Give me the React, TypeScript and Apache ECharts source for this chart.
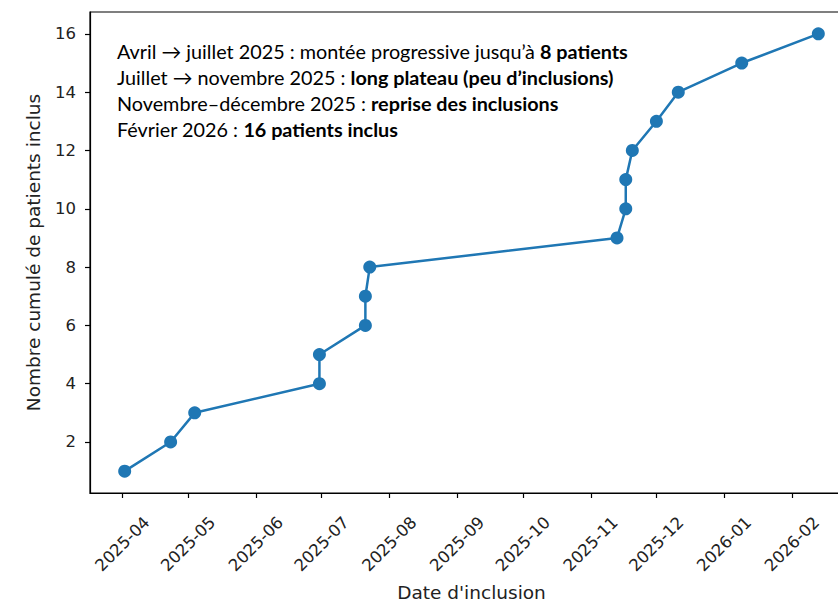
import React, { useEffect, useRef } from "react";
import * as echarts from "echarts";

const inclusionDates = [
  "2025-04-02", "2025-04-23", "2025-05-04", "2025-06-30", "2025-06-30",
  "2025-07-21", "2025-07-21", "2025-07-23", "2025-11-13", "2025-11-17",
  "2025-11-17", "2025-11-20", "2025-12-01", "2025-12-11", "2026-01-09",
  "2026-02-13",
];
const cumulativePatients = [1, 2, 3, 4, 5, 6, 7, 8, 9, 10, 11, 12, 13, 14, 15, 16];
const monthTicks = [
  "2025-04", "2025-05", "2025-06", "2025-07", "2025-08", "2025-09",
  "2025-10", "2025-11", "2025-12", "2026-01", "2026-02",
];
const yTicks = [2, 4, 6, 8, 10, 12, 14, 16];
const notes = [
  { normal: "Avril → juillet 2025 : montée progressive jusqu’à ", bold: "8 patients" },
  { normal: "Juillet → novembre 2025 : ", bold: "long plateau (peu d’inclusions)" },
  { normal: "Novembre–décembre 2025 : ", bold: "reprise des inclusions" },
  { normal: "Février 2026 : ", bold: "16 patients inclus" },
];

const ts = (s: string) => Date.parse(s + "T00:00:00Z");

export default function App() {
  const ref = useRef<HTMLDivElement>(null);
  useEffect(() => {
    if (!ref.current) return;
    const chart = echarts.init(ref.current, null, { renderer: "svg" });
    const xs = inclusionDates.map(ts);
    const xMinData = Math.min(...xs);
    const xMaxData = Math.max(...xs);
    const pad = (xMaxData - xMinData) * 0.05;
    const yPad = (Math.max(...cumulativePatients) - Math.min(...cumulativePatients)) * 0.05;
    const tickVals = monthTicks.map((m) => ts(m + "-01"));
    const fmt = (v: number) => {
      const d = new Date(v);
      return d.getUTCFullYear() + "-" + String(d.getUTCMonth() + 1).padStart(2, "0");
    };
    const font = "DejaVu Sans";
    chart.setOption({
      animation: false,
      grid: {
        left: 90,
        top: 12,
        width: 763,
        height: 481,
        show: true,
        borderColor: "#000",
        borderWidth: 1.2,
        backgroundColor: "transparent",
        outerBoundsMode: "none",
        containLabel: false,
      },
      xAxis: {
        type: "value",
        min: xMinData - pad,
        max: xMaxData + pad,
        name: "Date d'inclusion",
        nameLocation: "middle",
        nameGap: 90,
        nameTextStyle: { fontFamily: font, fontSize: 18.5, color: "#222", lineHeight: 19 },
        axisLine: { show: true, lineStyle: { color: "#000", width: 1.2 } },
        axisTick: {
          show: true,
          customValues: tickVals,
          length: 5,
          inside: false,
          lineStyle: { color: "#000", width: 1.2 },
        },
        axisLabel: {
          customValues: tickVals,
          rotate: 45,
          align: "center",
          verticalAlign: "middle",
          formatter: (v: number) => fmt(v),
          fontFamily: font,
          fontSize: 16.5,
          color: "#222",
          margin: 51,
          hideOverlap: false,
          showMinLabel: true,
          showMaxLabel: true,
        },
        splitLine: { show: false },
      },
      yAxis: {
        type: "value",
        min: Math.min(...cumulativePatients) - yPad,
        max: Math.max(...cumulativePatients) + yPad,
        name: "Nombre cumulé de patients inclus",
        nameLocation: "middle",
        nameGap: 47,
        nameRotate: 90,
        nameTextStyle: { fontFamily: font, fontSize: 18.5, color: "#222" },
        axisLine: { show: true, lineStyle: { color: "#000", width: 1.2 } },
        axisTick: {
          show: true,
          customValues: yTicks,
          length: 5,
          lineStyle: { color: "#000", width: 1.2 },
        },
        axisLabel: {
          customValues: yTicks,
          fontFamily: font,
          fontSize: 16.5,
          color: "#222",
          margin: 14,
        },
        splitLine: { show: false },
      },
      series: [
        {
          type: "line",
          data: xs.map((x, i) => [x, cumulativePatients[i]]),
          symbol: "circle",
          symbolSize: 13,
          showSymbol: true,
          lineStyle: { color: "#1f77b4", width: 2.5 },
          itemStyle: { color: "#1f77b4" },
          emphasis: { disabled: true },
        },
      ],
      graphic: notes.map((n, i) => ({
        type: "text",
        left: 117,
        top: 41 + i * 26,
        style: {
          text: "{n|" + n.normal + "}{b|" + n.bold + "}",
          rich: {
            n: { fontFamily: "Lato", fontSize: 19.8, fill: "#000", color: "#000" },
            b: { fontFamily: "Lato", fontSize: 19.8, fontWeight: "bold", fill: "#000", color: "#000" },
          },
        },
      })),
    });
    return () => chart.dispose();
  }, []);
  return (
    <div
      ref={ref}
      style={{ position: "fixed", left: 0, top: 0, width: 838, height: 603, background: "#fff" }}
    />
  );
}
